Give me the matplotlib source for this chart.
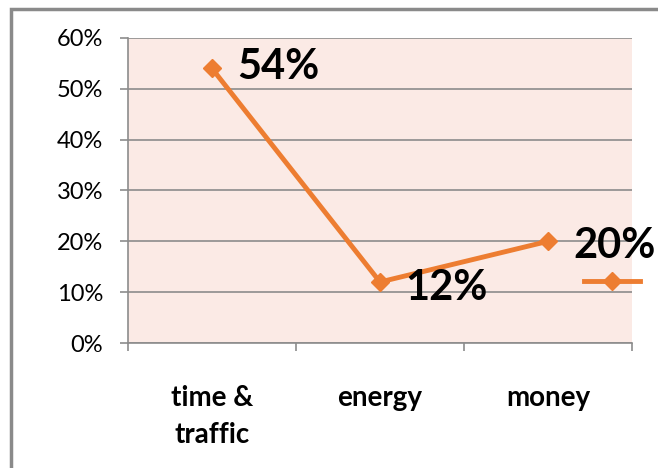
import numpy as np
import matplotlib.pyplot as plt
from matplotlib.patches import Rectangle
from matplotlib.lines import Line2D

categories = ['time &\ntraffic', 'energy', 'money']
shares = [0.54, 0.12, 0.20]
label_text = ['54%', '12%', '20%']
y_ticks = [0.0, 0.1, 0.2, 0.3, 0.4, 0.5, 0.6]

line_color = '#ED7D31'
grid_color = '#8c8c8c'
plot_bg = '#FBEAE5'

plt.rcParams['font.family'] = ['Lato', 'DejaVu Sans']

fig = plt.figure(figsize=(6.58, 4.68), dpi=100)
ax = fig.add_axes([128/658, 125/468, 504/658, 305/468])
ax.set_facecolor(plot_bg)

x = np.arange(len(categories))
ax.plot(x, shares, color=line_color, linewidth=3.5, marker='D',
        markersize=9, zorder=3, clip_on=False)

offsets = [(18, 1), (18, -4), (18, -3)]
for xi, yi, txt, off in zip(x, shares, label_text, offsets):
    ax.annotate(txt, (xi, yi), xytext=off, textcoords='offset points',
                ha='left', va='center', fontsize=30, fontweight='bold',
                color='black', zorder=4, annotation_clip=False)

ax.set_xlim(-0.5, len(categories) - 0.5)
ax.set_ylim(0, 0.6)
ax.set_yticks(y_ticks)
ax.set_yticklabels(['%d%%' % round(v * 100) for v in y_ticks], fontsize=17)
ax.yaxis.grid(True, color=grid_color, linewidth=1.2)
ax.set_axisbelow(True)

ax.set_xticks(x)
ax.set_xticklabels(categories, fontsize=20, fontweight='bold',
                   linespacing=1.55, va='top')
ax.set_xticks(np.arange(len(categories) + 1) - 0.5, minor=True)
ax.tick_params(axis='x', which='major', length=0, pad=30)
ax.tick_params(axis='x', which='minor', length=6, color=grid_color, width=1.2)
ax.tick_params(axis='y', length=6, color=grid_color, width=1.2, pad=12)

for side in ['top', 'right']:
    ax.spines[side].set_visible(False)
for side in ['left', 'bottom']:
    ax.spines[side].set_color(grid_color)
    ax.spines[side].set_linewidth(1.2)

# legend entry with no label, as a bare line + marker
handle = Line2D([], [], color=line_color, linewidth=3.5, marker='D',
                markersize=9)
fig.legend([handle], [''], loc='center', bbox_to_anchor=(612/658, 1 - 282/468),
           frameon=False, handlelength=4.0, handletextpad=0)

# outer chart frame
fig.patches.append(Rectangle((11/658, -0.1), 1.2, 1 - 9/468 + 0.1,
                             transform=fig.transFigure, fill=False,
                             edgecolor='#8a8a8a', linewidth=2.5))

fig.savefig('out.png', dpi=100)
